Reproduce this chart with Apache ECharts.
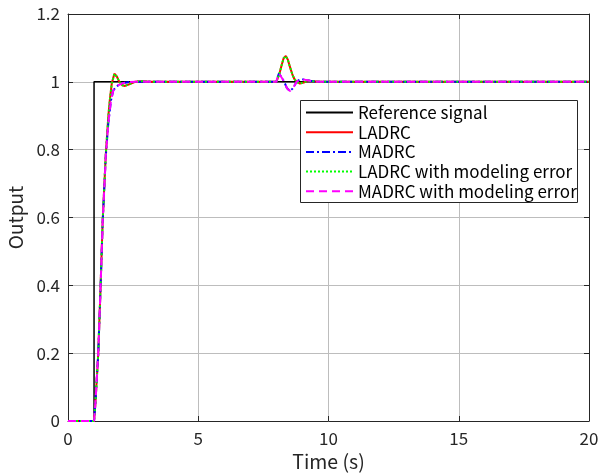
<!DOCTYPE html>
<html>
<head>
<meta charset="utf-8">
<script src="https://cdn.jsdelivr.net/npm/echarts@6/dist/echarts.min.js"></script>
<style>
  html, body { margin: 0; padding: 0; background: #fff; }
  #chart { width: 598px; height: 476px; }
</style>
</head>
<body>
<div id="chart"></div>
<script>
// [time, output] pairs
const refSignal = [[0, 0], [1, 0], [1, 1], [20, 1]];
const ladrc = [[0, 0], [1.0, 0], [1.05, 0.05], [1.16, 0.197], [1.25, 0.394], [1.33, 0.588], [1.45, 0.785], [1.55, 0.9], [1.61, 0.95], [1.68, 0.995], [1.78, 1.024], [1.88, 1.015], [1.97, 1.0], [2.08, 0.99], [2.19, 0.988], [2.35, 0.993], [2.57, 1.0], [2.8, 1.002], [3.2, 1.0], [8.0, 1.0], [8.05, 1.002], [8.12, 1.025], [8.2, 1.049], [8.28, 1.07], [8.36, 1.076], [8.44, 1.065], [8.52, 1.044], [8.62, 1.02], [8.7, 1.007], [8.78, 1.0], [8.9, 0.995], [9.05, 0.998], [9.2, 1.003], [9.4, 1.002], [9.7, 1.0], [20, 1.0]];
const madrc = [[0, 0], [1.0, 0], [1.05, 0.05], [1.16, 0.197], [1.25, 0.394], [1.33, 0.585], [1.45, 0.78], [1.55, 0.88], [1.65, 0.945], [1.74, 0.975], [1.85, 0.985], [1.93, 0.99], [2.1, 0.996], [2.3, 0.999], [2.6, 1.0], [8.0, 1.0], [8.03, 1.01], [8.1, 1.025], [8.16, 1.022], [8.3, 1.0], [8.4, 0.982], [8.52, 0.973], [8.62, 0.98], [8.7, 0.99], [8.78, 1.0], [8.88, 1.006], [8.97, 1.008], [9.1, 1.006], [9.3, 1.003], [9.6, 1.0], [20, 1.0]];
const ladrcErr = [[0, 0], [1.0, 0], [1.05, 0.05], [1.16, 0.197], [1.25, 0.394], [1.33, 0.588], [1.45, 0.785], [1.55, 0.9], [1.61, 0.95], [1.68, 0.995], [1.78, 1.024], [1.88, 1.015], [1.97, 1.0], [2.08, 0.99], [2.19, 0.988], [2.35, 0.993], [2.57, 1.0], [2.8, 1.002], [3.2, 1.0], [8.0, 1.0], [8.05, 1.002], [8.12, 1.025], [8.2, 1.049], [8.28, 1.07], [8.36, 1.076], [8.44, 1.065], [8.52, 1.044], [8.62, 1.02], [8.7, 1.007], [8.78, 1.0], [8.9, 0.995], [9.05, 0.998], [9.2, 1.003], [9.4, 1.002], [9.7, 1.0], [20, 1.0]];
const madrcErr = [[0, 0], [1.0, 0], [1.05, 0.05], [1.16, 0.197], [1.25, 0.394], [1.33, 0.585], [1.45, 0.78], [1.55, 0.88], [1.65, 0.945], [1.74, 0.975], [1.85, 0.985], [1.93, 0.99], [2.1, 0.996], [2.3, 0.999], [2.6, 1.0], [8.0, 1.0], [8.03, 1.01], [8.1, 1.025], [8.16, 1.022], [8.3, 1.0], [8.4, 0.982], [8.52, 0.973], [8.62, 0.98], [8.7, 0.99], [8.78, 1.0], [8.88, 1.006], [8.97, 1.008], [9.1, 1.006], [9.3, 1.003], [9.6, 1.0], [20, 1.0]];
const seriesNames = ['Reference signal', 'LADRC', 'MADRC', 'LADRC with modeling error', 'MADRC with modeling error'];

const font = '"Noto Sans CJK JP", "Noto Sans", sans-serif';
var myChart = echarts.init(document.getElementById('chart'));

const gridLine = { show: true, lineStyle: { color: '#bdbdbd', width: 1 } };
const axLine = { show: true, onZero: false, lineStyle: { color: '#262626', width: 1 } };
const tick = { show: true, inside: true, length: 5, lineStyle: { color: '#262626' } };

function line(name, data, color, type, width, z) {
    return {
        name: name,
        type: 'line',
        data: data,
        symbol: 'none',
        z: z,
        lineStyle: { color: color, type: type, width: width },
        itemStyle: { color: color },
        animation: false
    };
}

var option = {
    backgroundColor: '#fff',
    textStyle: { fontFamily: font },
    grid: { left: 68, right: 9, top: 14, bottom: 55, outerBoundsMode: 'none', containLabel: false },
    // legend frame (the legend's own border came out too wide)
    graphic: [{
        type: 'rect',
        z: 15,
        shape: { x: 300.5, y: 100.5, width: 277, height: 102 },
        style: { fill: '#fff', stroke: '#262626', lineWidth: 1 }
    }],
    legend: {
        data: seriesNames,
        orient: 'vertical',
        left: 300,
        top: 100,
        z: 20,
        itemWidth: 47,
        itemHeight: 14,
        itemGap: 2.7,
        padding: [4, 6, 4, 5],
        itemStyle: { opacity: 0 },
        textStyle: { fontFamily: font, fontSize: 17, lineHeight: 14, color: '#000' }
    },
    xAxis: [{
        type: 'value',
        min: 0, max: 20, interval: 5,
        name: 'Time (s)',
        nameLocation: 'middle',
        nameGap: 31,
        nameTextStyle: { fontSize: 19.5, color: '#262626', fontFamily: font },
        axisLine: axLine,
        axisTick: tick,
        splitLine: gridLine,
        axisLabel: { fontSize: 17, color: '#262626', margin: 9, fontFamily: font }
    }, {
        type: 'value', position: 'top',
        min: 0, max: 20, interval: 5,
        axisLine: axLine, axisTick: tick,
        splitLine: { show: false }, axisLabel: { show: false }
    }],
    yAxis: [{
        type: 'value',
        min: 0, max: 1.2, interval: 0.2,
        name: 'Output',
        nameLocation: 'middle',
        nameGap: 38,
        nameTextStyle: { fontSize: 19, color: '#262626', fontFamily: font },
        axisLine: axLine,
        axisTick: tick,
        splitLine: gridLine,
        axisLabel: {
            fontSize: 17, color: '#262626', margin: 8, fontFamily: font,
            formatter: (v) => String(Math.round(v * 10) / 10)
        }
    }, {
        type: 'value', position: 'right',
        min: 0, max: 1.2, interval: 0.2,
        axisLine: axLine, axisTick: tick,
        splitLine: { show: false }, axisLabel: { show: false }
    }],
    series: [
        line(seriesNames[0], refSignal, '#000000', 'solid', 1.5, 2),
        line(seriesNames[1], ladrc, '#ff0000', 'solid', 2, 3),
        line(seriesNames[2], madrc, '#0000ff', [8, 3, 2, 3], 2, 4),
        line(seriesNames[3], ladrcErr, '#00ff00', [2, 2], 2, 5),
        line(seriesNames[4], madrcErr, '#ff00ff', [8, 5], 2, 6)
    ]
};

option && myChart.setOption(option);
</script>
</body>
</html>
